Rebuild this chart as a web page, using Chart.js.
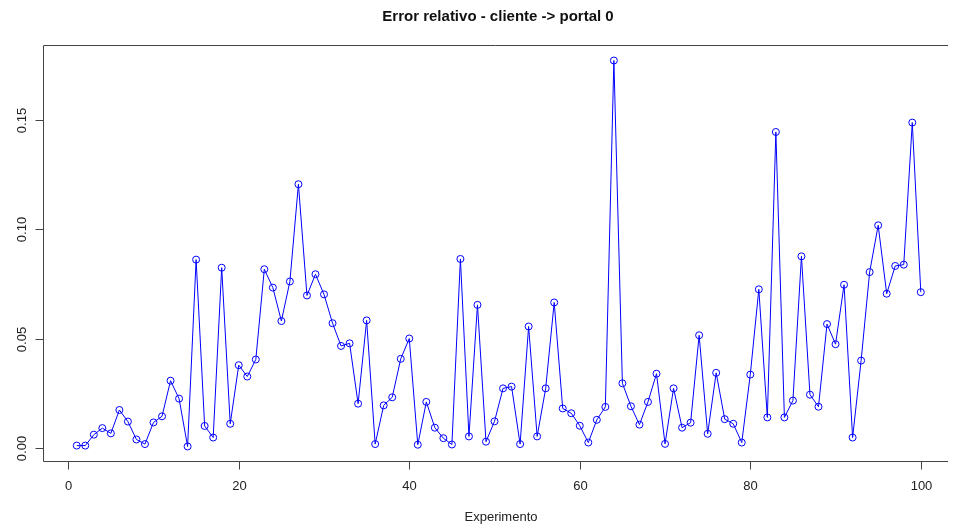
<!DOCTYPE html>
<html lang="es">
<head>
    <meta charset="UTF-8">
    <title>Error relativo - cliente -> portal 0</title>
    <script src="https://cdn.jsdelivr.net/npm/chart.js"></script>
    <style>
        html, body {
            margin: 0;
            overflow: hidden;
            background-color: #ffffff;
        }
        canvas {
            display: block;
        }
    </style>
</head>
<body>
    <canvas id="errorChart" width="953" height="529"></canvas>

    <script>
        // experiment index 1..100
        const experiments = Array.from({ length: 100 }, (_, i) => i + 1);

        // relative error
        const relError = [
            0.0010, 0.0010, 0.0060, 0.0090, 0.0066, 0.0173, 0.0120, 0.0038, 0.0017, 0.0116,
            0.0144, 0.0307, 0.0225, 0.0006, 0.0861, 0.0100, 0.0047, 0.0824, 0.0110, 0.0378,
            0.0326, 0.0404, 0.0817, 0.0733, 0.0580, 0.0761, 0.1206, 0.0697, 0.0794, 0.0702,
            0.0570, 0.0466, 0.0478, 0.0202, 0.0583, 0.0017, 0.0194, 0.0231, 0.0407, 0.0500,
            0.0014, 0.0210, 0.0092, 0.0044, 0.0015, 0.0864, 0.0052, 0.0654, 0.0028, 0.0121,
            0.0272, 0.0280, 0.0017, 0.0555, 0.0052, 0.0272, 0.0665, 0.0180, 0.0158, 0.0101,
            0.0024, 0.0128, 0.0187, 0.1772, 0.0295, 0.0190, 0.0106, 0.0210, 0.0339, 0.0018,
            0.0272, 0.0092, 0.0115, 0.0515, 0.0064, 0.0343, 0.0131, 0.0110, 0.0024, 0.0335,
            0.0725, 0.0139, 0.1445, 0.0139, 0.0216, 0.0876, 0.0243, 0.0188, 0.0566, 0.0474,
            0.0746, 0.0047, 0.0399, 0.0804, 0.1018, 0.0705, 0.0832, 0.0838, 0.1488, 0.0712
        ];

        const xTicks = [0, 20, 40, 60, 80, 100];
        const yTicks = [0.00, 0.05, 0.10, 0.15];
        const yTickLabels = ["0.00", "0.05", "0.10", "0.15"];

        const titleText = "Error relativo - cliente -> portal 0";
        const xTitle = "Experimento";

        const points = experiments.map((e, i) => ({ x: e, y: relError[i] }));

        // R style box, ticks and labels
        const rAxes = {
            id: "rAxes",
            afterDraw(chart) {
                const ctx = chart.ctx;
                const area = chart.chartArea;
                const xs = chart.scales.x;
                const ys = chart.scales.y;
                ctx.save();
                ctx.strokeStyle = "#444";
                ctx.lineWidth = 1;
                // box is cut by the right edge in the original, so no right side
                const l = Math.round(area.left) + 0.5;
                const t = Math.round(area.top) + 0.5;
                const b = Math.round(area.bottom) - 0.5;
                ctx.beginPath();
                ctx.moveTo(area.right, t);
                ctx.lineTo(l, t);
                ctx.lineTo(l, b);
                ctx.lineTo(area.right, b);
                ctx.stroke();

                ctx.fillStyle = "#222";
                ctx.font = "13px 'Liberation Sans', Arial, sans-serif";

                // x axis
                ctx.textAlign = "center";
                ctx.textBaseline = "middle";
                xTicks.forEach(v => {
                    const px = Math.round(xs.getPixelForValue(v)) + 0.5;
                    ctx.beginPath();
                    ctx.moveTo(px, b);
                    ctx.lineTo(px, b + 8);
                    ctx.stroke();
                    ctx.fillText(String(v), px, area.bottom + 24);
                });
                ctx.fillText(xTitle, 501, area.bottom + 55);

                // y axis, labels turned like R
                yTicks.forEach((v, i) => {
                    const py = Math.round(ys.getPixelForValue(v)) + 0.5;
                    ctx.beginPath();
                    ctx.moveTo(l, py);
                    ctx.lineTo(l - 8, py);
                    ctx.stroke();
                    ctx.save();
                    ctx.translate(22, py);
                    ctx.rotate(-Math.PI / 2);
                    ctx.fillText(yTickLabels[i], 0, 0);
                    ctx.restore();
                });
                ctx.restore();
            }
        };

        new Chart(document.getElementById("errorChart").getContext("2d"), {
            type: "line",
            data: {
                datasets: [{
                    data: points,
                    borderColor: "#0000ff",
                    borderWidth: 1,
                    pointRadius: 3.5,
                    pointBorderWidth: 1,
                    pointBorderColor: "#0000ff",
                    pointBackgroundColor: "rgba(0,0,0,0)",
                    tension: 0,
                    fill: false
                }]
            },
            options: {
                responsive: false,
                animation: false,
                devicePixelRatio: 1,
                layout: {
                    padding: { left: 43, right: 0, top: 0, bottom: 67 }
                },
                plugins: {
                    legend: { display: false },
                    tooltip: { enabled: false },
                    title: {
                        display: true,
                        text: titleText,
                        color: "#111",
                        font: { family: "'Liberation Sans', Arial, sans-serif", size: 15, weight: "bold", lineHeight: 1.2 },
                        padding: { top: 8, bottom: 19 }
                    }
                },
                scales: {
                    x: {
                        type: "linear",
                        min: -2.96,
                        max: 103.19,
                        display: false
                    },
                    y: {
                        type: "linear",
                        min: -0.0065,
                        max: 0.1843,
                        display: false
                    }
                }
            },
            plugins: [rAxes]
        });
    </script>
</body>
</html>
